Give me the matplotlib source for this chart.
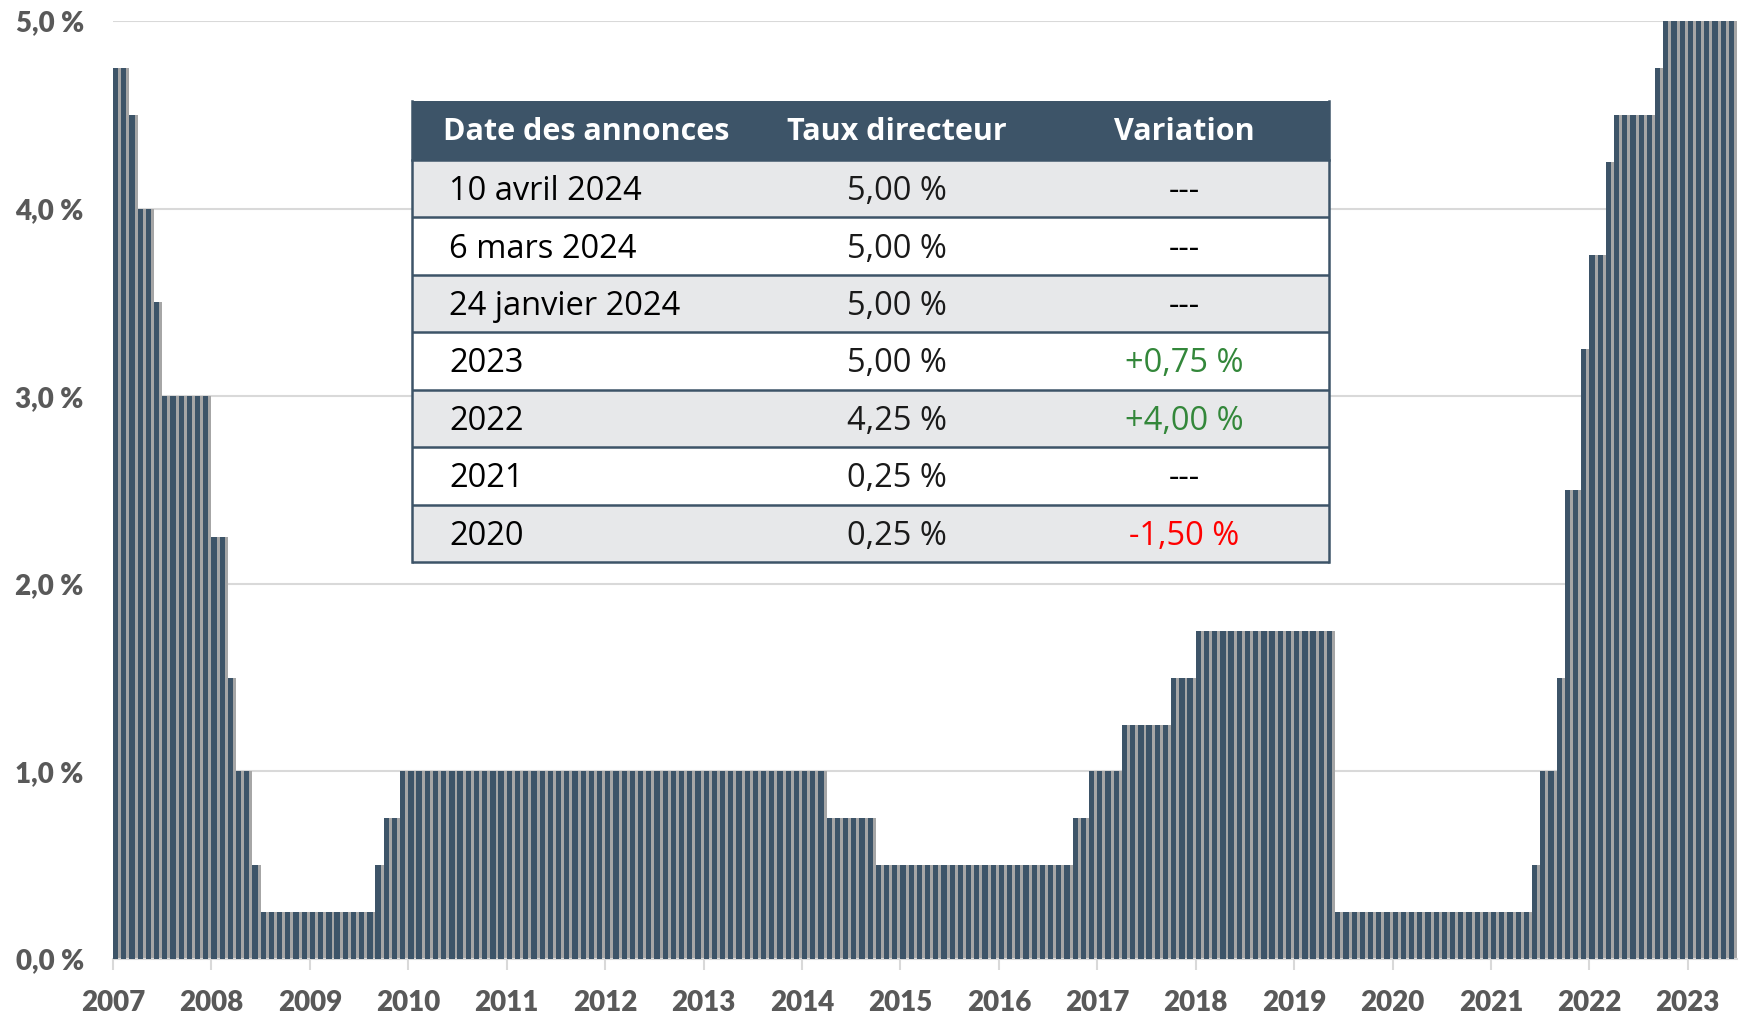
import numpy as np
import matplotlib
matplotlib.use('Agg')
import matplotlib.pyplot as plt
from matplotlib.patches import Rectangle

# monthly policy rate (%), one bar per month, 12 per line
rates = [
    4.75, 4.75, 4.5, 4.0, 4.0, 3.5, 3.0, 3.0, 3.0, 3.0, 3.0, 3.0,
    2.25, 2.25, 1.5, 1.0, 1.0, 0.5, 0.25, 0.25, 0.25, 0.25, 0.25, 0.25,
    0.25, 0.25, 0.25, 0.25, 0.25, 0.25, 0.25, 0.25, 0.5, 0.75, 0.75, 1.0,
    1.0, 1.0, 1.0, 1.0, 1.0, 1.0, 1.0, 1.0, 1.0, 1.0, 1.0, 1.0,
    1.0, 1.0, 1.0, 1.0, 1.0, 1.0, 1.0, 1.0, 1.0, 1.0, 1.0, 1.0,
    1.0, 1.0, 1.0, 1.0, 1.0, 1.0, 1.0, 1.0, 1.0, 1.0, 1.0, 1.0,
    1.0, 1.0, 1.0, 1.0, 1.0, 1.0, 1.0, 1.0, 1.0, 1.0, 1.0, 1.0,
    1.0, 1.0, 1.0, 0.75, 0.75, 0.75, 0.75, 0.75, 0.75, 0.5, 0.5, 0.5,
    0.5, 0.5, 0.5, 0.5, 0.5, 0.5, 0.5, 0.5, 0.5, 0.5, 0.5, 0.5,
    0.5, 0.5, 0.5, 0.5, 0.5, 0.5, 0.5, 0.5, 0.5, 0.75, 0.75, 1.0,
    1.0, 1.0, 1.0, 1.25, 1.25, 1.25, 1.25, 1.25, 1.25, 1.5, 1.5, 1.5,
    1.75, 1.75, 1.75, 1.75, 1.75, 1.75, 1.75, 1.75, 1.75, 1.75, 1.75, 1.75,
    1.75, 1.75, 1.75, 1.75, 1.75, 0.25, 0.25, 0.25, 0.25, 0.25, 0.25, 0.25,
    0.25, 0.25, 0.25, 0.25, 0.25, 0.25, 0.25, 0.25, 0.25, 0.25, 0.25, 0.25,
    0.25, 0.25, 0.25, 0.25, 0.25, 0.5, 1.0, 1.0, 1.5, 2.5, 2.5, 3.25,
    3.75, 3.75, 4.25, 4.5, 4.5, 4.5, 4.5, 4.5, 4.75, 5.0, 5.0, 5.0,
    5.0, 5.0, 5.0, 5.0, 5.0, 5.0,
]
year_labels = ['2007', '2008', '2009', '2010', '2011', '2012', '2013', '2014',
               '2015', '2016', '2017', '2018', '2019', '2020', '2021', '2022', '2023']
y_ticks = [0, 1, 2, 3, 4, 5]
y_tick_labels = ['0,0 %', '1,0 %', '2,0 %', '3,0 %', '4,0 %', '5,0 %']

table_headers = ['Date des annonces', 'Taux directeur', 'Variation']
table_dates = ['10 avril 2024', '6 mars 2024', '24 janvier 2024', '2023', '2022', '2021', '2020']
table_rates = ['5,00 %', '5,00 %', '5,00 %', '5,00 %', '4,25 %', '0,25 %', '0,25 %']
table_changes = ['---', '---', '---', '+0,75 %', '+4,00 %', '---', '-1,50 %']

dark = '#3d5468'
shadow = '#a6a6a6'
grid_grey = '#d9d9d9'
label_grey = '#595959'
axis_font = ['Lato', 'DejaVu Sans']
table_font = ['Open Sans', 'DejaVu Sans']


def change_color(txt):
    if txt.startswith('+'):
        return '#33873a'
    if txt.startswith('-') and txt != '---':
        return '#ff0000'
    return 'black'


W, H = 1739, 1015
fig = plt.figure(figsize=(W / 100, H / 100), dpi=100)
ax = fig.add_axes([113 / W, 56 / H, 1624 / W, 938 / H])

x = np.arange(len(rates))
ax.bar(x, rates, width=1.0, align='edge', color=shadow, zorder=2)
ax.bar(x, rates, width=0.64, align='edge', color=dark, zorder=3)

ax.set_xlim(0, len(rates))
ax.set_ylim(0, 5)
ax.set_axisbelow(True)
ax.yaxis.grid(True, color=grid_grey, lw=1.5)
for side in ['top', 'right', 'left']:
    ax.spines[side].set_visible(False)
ax.spines['bottom'].set_color(grid_grey)
ax.spines['bottom'].set_linewidth(1.5)

ax.set_xticks(np.arange(0, len(rates), 12))
ax.set_xticklabels(year_labels, fontsize=20, fontweight='heavy',
                   color=label_grey, family=axis_font)
ax.set_yticks(y_ticks)
ax.set_yticklabels(y_tick_labels, fontsize=20, fontweight='heavy',
                   color=label_grey, family=axis_font)
ax.tick_params(axis='x', length=8, width=1.5, color=grid_grey, pad=14)
ax.tick_params(axis='y', length=0, pad=21)

# summary table drawn in pixel coordinates
tx0, ty0, tx1, ty1 = 412, 101, 1329, 562
tw, th = tx1 - tx0, ty1 - ty0
tab = fig.add_axes([tx0 / W, (H - ty1) / H, tw / W, th / H])
tab.set_xlim(0, tw)
tab.set_ylim(th, 0)
tab.axis('off')

header_h = 59
row_h = (th - header_h) / len(table_dates)
col_centers = [174, 485, 772]
tab.add_patch(Rectangle((0, 0), tw, header_h, facecolor=dark, edgecolor='none'))
for j, head in enumerate(table_headers):
    tab.text(col_centers[j], header_h / 2 + 2, head, ha='center', va='center',
             color='white', fontsize=22, fontweight='bold', family=table_font)

for i in range(len(table_dates)):
    top = header_h + i * row_h
    fill = '#e7e8ea' if i % 2 == 0 else 'white'
    tab.add_patch(Rectangle((0, top), tw, row_h, facecolor=fill, edgecolor='none'))
    yc = top + row_h / 2 + 3
    tab.text(37, yc, table_dates[i], ha='left', va='center', color='black',
             fontsize=23.5, family=table_font)
    tab.text(col_centers[1], yc, table_rates[i], ha='center', va='center',
             color='#1a1a1a', fontsize=23.5, family=table_font)
    tab.text(col_centers[2], yc, table_changes[i], ha='center', va='center',
             color=change_color(table_changes[i]), fontsize=23.5, family=table_font)
    tab.plot([0, tw], [top + row_h, top + row_h], color=dark, lw=1.8,
             clip_on=False, solid_capstyle='butt')

tab.plot([0, 0], [0, th], color=dark, lw=1.8, clip_on=False)
tab.plot([tw, tw], [0, th], color=dark, lw=1.8, clip_on=False)
tab.plot([0, tw], [header_h, header_h], color=dark, lw=1.8, clip_on=False)

fig.savefig('out.png', dpi=100)
